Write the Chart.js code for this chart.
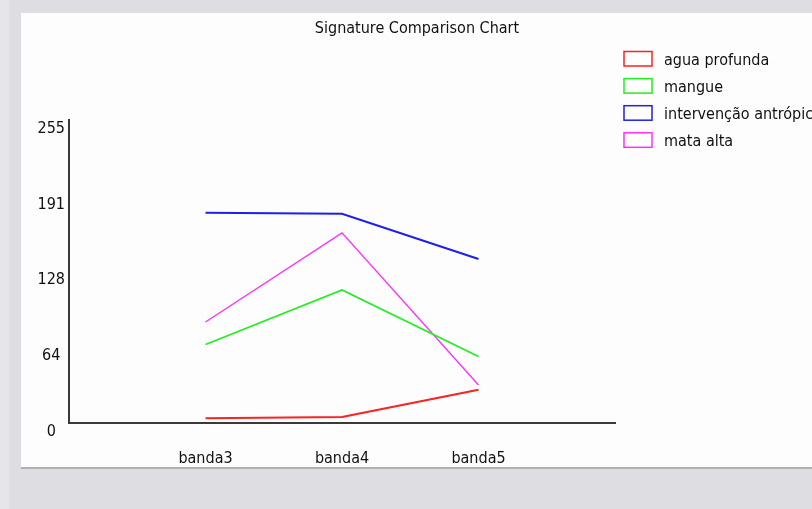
<!DOCTYPE html>
<html>
<head>
<meta charset="utf-8">
<script src="https://cdn.jsdelivr.net/npm/chart.js@4.4.1/dist/chart.umd.min.js"></script>
<style>
  html, body { margin: 0; padding: 0; }
  body { width: 812px; height: 509px; background: #dedde2; position: relative; overflow: hidden; }
  #strip { position: absolute; left: 0; top: 0; width: 9px; height: 509px; background: #e6e6ea; }
  #panel { position: absolute; left: 21px; top: 13px; width: 791px; height: 454px; background: #fdfdfd; border-bottom: 2px solid #b0b0b2; }
  #wrap { position: absolute; left: 0; top: 0; width: 812px; height: 509px; }
</style>
</head>
<body>
<div id="strip"></div>
<div id="panel"></div>
<div id="wrap"><canvas id="c" width="812" height="509"></canvas></div>
<script>
const chartTitle = 'Signature Comparison Chart';
const categories = ['banda3', 'banda4', 'banda5'];
const yTickValues = [0, 64, 128, 191, 255];
const seriesNames = ['agua profunda', 'mangue', 'intervenção antrópica', 'mata alta'];
const aguaProfunda = [4, 5, 28];
const mangue = [66, 112, 56];
const intervencaoAntropica = [177, 176, 138];
const mataAlta = [85, 160, 32];
const seriesColors = ['#ff2020', '#20ee20', '#1e1eee', '#ff30ff'];
const seriesWidths = [2, 1.6, 2, 1.4];

const FONT = '"DejaVu Sans Condensed", "Liberation Sans Narrow", "Liberation Sans", sans-serif';
const FS = 16;

const allSeries = [aguaProfunda, mangue, intervencaoAntropica, mataAlta];
const datasets = allSeries.map((vals, k) => ({
  label: seriesNames[k],
  data: vals.map((v, i) => ({ x: i + 1, y: v })),
  borderColor: seriesColors[k],
  backgroundColor: '#ffffff',
  borderWidth: seriesWidths[k],
  pointRadius: 0,
  tension: 0,
  fill: false
}));

const overlay = {
  id: 'overlay',
  afterDraw(chart) {
    const ctx = chart.ctx;
    ctx.save();
    ctx.fillStyle = '#111';
    ctx.font = FS + 'px ' + FONT;
    ctx.textAlign = 'center';
    ctx.textBaseline = 'alphabetic';
    ctx.fillText(chartTitle, 417, 33);
    // legend
    chart.data.datasets.forEach((ds, k) => {
      const cy = 59 + k * 27.1;
      ctx.fillStyle = '#ffffff';
      ctx.fillRect(624, cy - 7.5, 28, 14.5);
      ctx.strokeStyle = ds.borderColor;
      ctx.lineWidth = 1.5;
      ctx.strokeRect(624, cy - 7.5, 28, 14.5);
      ctx.fillStyle = '#111';
      ctx.textAlign = 'left';
      ctx.fillText(ds.label, 664, cy + 6);
    });
    ctx.restore();
  }
};

new Chart(document.getElementById('c'), {
  type: 'line',
  data: { datasets },
  plugins: [overlay],
  options: {
    responsive: false,
    animation: false,
    events: [],
    layout: { padding: { left: 0, top: 120, right: 197, bottom: 0 } },
    plugins: { legend: { display: false }, title: { display: false }, tooltip: { enabled: false } },
    scales: {
      x: {
        type: 'linear',
        min: 0,
        max: 4,
        grid: { display: false, drawTicks: false, tickLength: 0 },
        border: { display: true, color: '#3a3a3a', width: 2 },
        ticks: {
          stepSize: 1,
          autoSkip: false,
          maxRotation: 0,
          padding: 26,
          color: '#111',
          font: { family: FONT, size: FS },
          callback: (v) => (Number.isInteger(v) && v >= 1 && v <= categories.length) ? categories[v - 1] : ''
        },
        afterFit: (s) => { s.height = 86; }
      },
      y: {
        min: 0,
        max: 255,
        grid: { display: false, drawTicks: false, tickLength: 0 },
        border: { display: true, color: '#3a3a3a', width: 2 },
        afterBuildTicks: (s) => { s.ticks = yTickValues.map(v => ({ value: v })); },
        ticks: {
          padding: 4,
          crossAlign: 'center',
          labelOffset: 9,
          color: '#111',
          font: { family: FONT, size: FS },
          callback: (v) => String(v)
        },
        afterFit: (s) => { s.width = 69; }
      }
    }
  }
});
</script>
</body>
</html>
